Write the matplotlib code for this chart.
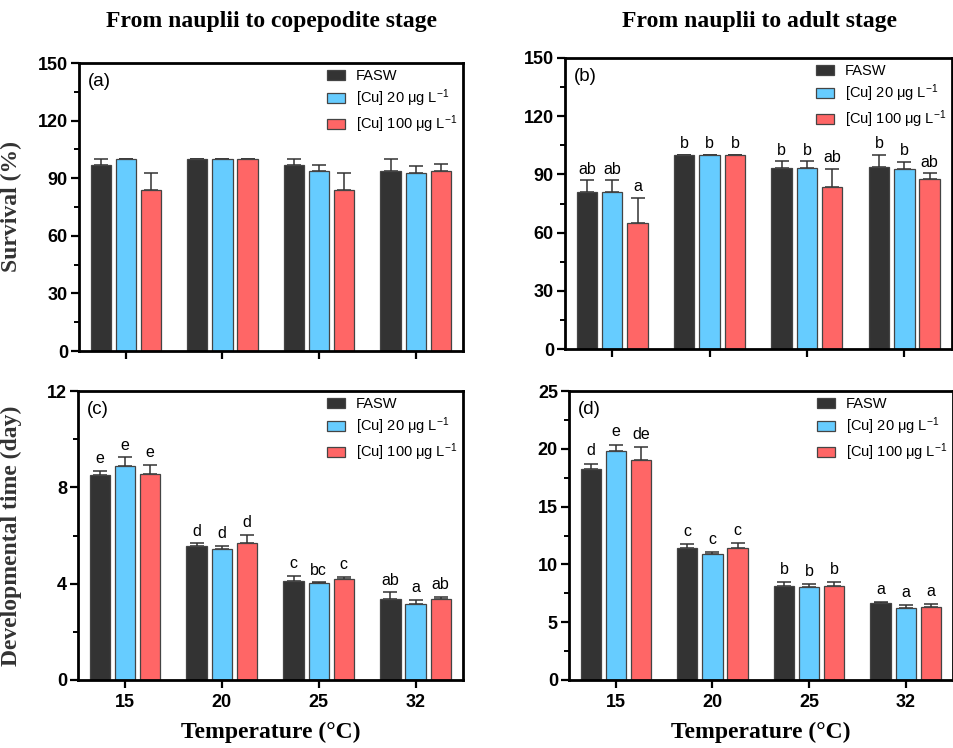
import matplotlib
matplotlib.use("Agg")
import matplotlib.pyplot as plt
from matplotlib.ticker import MultipleLocator
from matplotlib.patches import Patch
import numpy as np

plt.rcParams["mathtext.fontset"] = "custom"
plt.rcParams["mathtext.rm"] = "Liberation Sans"
plt.rcParams["mathtext.it"] = "Liberation Sans:italic"
plt.rcParams["mathtext.bf"] = "Liberation Sans:bold"

temps = ["15", "20", "25", "32"]
series = ["FASW", "[Cu] 20 μg L$^{\\mathrm{-1}}$", "[Cu] 100 μg L$^{\\mathrm{-1}}$"]
colors = ["#333333", "#66CCFF", "#FF6666"]

# (a) survival nauplii -> copepodite
a_mean = [[96.7, 100, 96.7, 93.7], [100, 100, 93.7, 92.8], [83.7, 100, 83.7, 93.7]]
a_err = [[3.3, 0, 3.3, 6.3], [0, 0, 3.1, 3.7], [8.9, 0, 8.9, 3.5]]
a_let = None

# (b) survival nauplii -> adult
b_mean = [[80.7, 100, 93.4, 93.8], [80.7, 100, 93.4, 92.7], [64.9, 100, 83.6, 87.4]]
b_err = [[6.2, 0, 3.3, 6.1], [6.2, 0, 3.3, 3.6], [13.0, 0, 9.1, 3.1]]
b_let = [["ab", "b", "b", "b"], ["ab", "b", "b", "b"], ["a", "b", "ab", "ab"]]

# (c) developmental time nauplii -> copepodite
c_mean = [[8.50, 5.57, 4.09, 3.37], [8.90, 5.45, 4.01, 3.15], [8.57, 5.67, 4.19, 3.37]]
c_err = [[0.18, 0.10, 0.24, 0.27], [0.34, 0.12, 0.04, 0.18], [0.36, 0.36, 0.10, 0.07]]
c_let = [["e", "d", "c", "ab"], ["e", "d", "bc", "a"], ["e", "d", "c", "ab"]]

# (d) developmental time nauplii -> adult
d_mean = [[18.26, 11.38, 8.15, 6.62], [19.84, 10.92, 8.04, 6.22], [19.07, 11.46, 8.09, 6.34]]
d_err = [[0.46, 0.40, 0.29, 0.12], [0.52, 0.11, 0.23, 0.29], [1.06, 0.38, 0.35, 0.20]]
d_let = [["d", "c", "b", "a"], ["e", "c", "b", "a"], ["de", "c", "b", "a"]]

fig = plt.figure(figsize=(9.54, 7.48), dpi=100)

positions = {
    "a": [79 / 954, 1 - 351 / 748, 384 / 954, 288 / 748],
    "b": [565 / 954, 1 - 349 / 748, 387 / 954, 291 / 748],
    "c": [78 / 954, 1 - 680 / 748, 385 / 954, 289 / 748],
    "d": [569 / 954, 1 - 680 / 748, 384 / 954, 289 / 748],
}

tickfont = dict(family="Liberation Sans", weight="bold", size=13)
serif = dict(family="Liberation Serif", weight="bold", size=17)


def panel(key, mean, err, lets, ymax, ystep, label, show_x, letoff):
    ax = fig.add_axes(positions[key])
    x = np.arange(len(temps))
    w = 0.21
    off = 0.26
    for i in range(3):
        xs = x + (i - 1) * off
        ax.bar(xs, mean[i], w, color=colors[i], edgecolor="#444444", linewidth=0.9, zorder=2)
        ax.errorbar(xs, mean[i], yerr=[np.zeros(4), err[i]], fmt="none", ecolor="#333333",
                    elinewidth=1.1, capsize=5, capthick=1.1, zorder=1)
        if lets is not None:
            for j in range(4):
                ax.text(xs[j], mean[i][j] + err[i][j] + letoff, lets[i][j], ha="center", va="bottom",
                        fontsize=11.5, family="Liberation Sans")
    ax.set_xlim(-0.485, 3.49)
    ax.set_ylim(0, ymax)
    ax.yaxis.set_major_locator(MultipleLocator(ystep))
    ax.yaxis.set_minor_locator(MultipleLocator(ystep / 2))
    ax.set_xticks(x)
    if show_x:
        ax.set_xticklabels(temps, fontdict=tickfont)
        ax.set_xlabel("Temperature (°C)", fontdict=serif, labelpad=8)
    else:
        ax.set_xticklabels([])
    for lab in ax.get_yticklabels():
        lab.set_fontfamily("Liberation Sans")
        lab.set_fontweight("bold")
        lab.set_fontsize(13)
    ax.tick_params(axis="both", which="major", direction="out", length=6, width=1.6, pad=2)
    ax.tick_params(axis="x", which="major", pad=4)
    ax.tick_params(axis="y", which="minor", direction="out", length=3.5, width=1.4)
    ax.tick_params(axis="x", which="minor", bottom=False)
    for s in ax.spines.values():
        s.set_linewidth(2)
    ax.text(0.024, 0.965, label, transform=ax.transAxes, ha="left", va="top", fontsize=13.5,
            family="Liberation Sans")
    handles = [Patch(facecolor=colors[i], edgecolor="#444444", linewidth=0.9, label=series[i]) for i in range(3)]
    ax.legend(handles=handles, loc="upper right", frameon=False,
              handlelength=1.25, handleheight=0.65, handletextpad=0.75, labelspacing=0.3,
              borderaxespad=0.1, borderpad=0.3, prop=dict(family="Liberation Sans", size=10.5))
    return ax


axa = panel("a", a_mean, a_err, a_let, 150, 30, "(a)", False, 2)
axb = panel("b", b_mean, b_err, b_let, 150, 30, "(b)", False, 2)
axc = panel("c", c_mean, c_err, c_let, 12, 4, "(c)", True, 0.2)
axd = panel("d", d_mean, d_err, d_let, 25, 5, "(d)", True, 0.45)

axa.set_ylabel("Survival (%)", fontdict=serif, color="#333333")
axa.yaxis.set_label_coords((22 - 79) / 384, 0.5)
axc.set_ylabel("Developmental time (day)", fontdict=serif, color="#333333")
axc.yaxis.set_label_coords((22 - 78) / 385, 0.5)

fig.text(271 / 954, 1 - 22 / 748, "From nauplii to copepodite stage", ha="center", va="center", **serif)
fig.text(760 / 954, 1 - 22 / 748, "From nauplii to adult stage", ha="center", va="center", **serif)

fig.savefig("out.png", dpi=100)
